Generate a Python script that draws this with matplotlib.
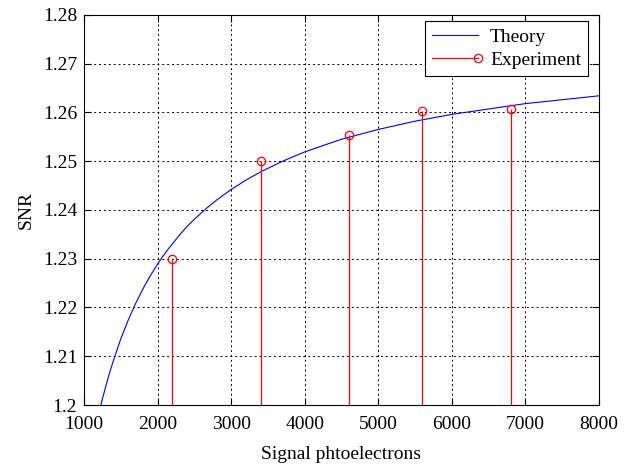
import matplotlib
matplotlib.use("Agg")
import matplotlib.pyplot as plt
from matplotlib.lines import Line2D
from matplotlib.legend_handler import HandlerLine2D

# Theory curve, values
theory_x = [1218, 1250, 1300, 1350, 1412, 1450, 1500, 1550, 1600, 1662, 1700, 1800, 1900,
            2000, 2057, 2150, 2300, 2400, 2500, 2669, 2800, 3000, 3200, 3400, 3700,
            4000, 4500, 5000, 5500, 6000, 6500, 7000, 7500, 8000]
theory_y = [1.1994, 1.2013, 1.2041, 1.2068, 1.2097, 1.2114, 1.2136, 1.2155, 1.2174, 1.2195,
            1.2208, 1.2238, 1.2265, 1.2289, 1.2302, 1.2321, 1.2349, 1.2366, 1.2381, 1.2404,
            1.2420, 1.2442, 1.2461, 1.2478, 1.2500, 1.2519, 1.2545, 1.2565, 1.2582, 1.2596,
            1.2607, 1.2618, 1.2626, 1.2634]

# Experiment points
exp_x = [2200, 3400, 4600, 5600, 6800]
exp_y = [1.2300, 1.2501, 1.2554, 1.2603, 1.2607]

x_ticks = [1000, 2000, 3000, 4000, 5000, 6000, 7000, 8000]
y_ticks = [1.2, 1.21, 1.22, 1.23, 1.24, 1.25, 1.26, 1.27, 1.28]
y_labels = ['1.2', '1.21', '1.22', '1.23', '1.24', '1.25', '1.26', '1.27', '1.28']

plt.rcParams['font.family'] = ['Liberation Serif', 'DejaVu Serif']
plt.rcParams['font.size'] = 14


class EndMarkerHandler(HandlerLine2D):  # marker at right end of the legend line, like matlab stem
    def create_artists(self, *args, **kwargs):
        artists = super().create_artists(*args, **kwargs)
        for a in artists:
            a.set_markevery([2])
        return artists


fig = plt.figure(figsize=(6.37, 4.65), dpi=100)
ax = fig.add_axes([0.132, 0.129, 0.808, 0.839])

ax.plot(theory_x, theory_y, color='blue', lw=0.8)
ax.vlines(exp_x, 1.2, exp_y, color='red', lw=0.9)
ax.plot(exp_x, exp_y, 'o', color='red', mfc='none', ms=6, mew=0.9)

ax.set_xlim(1000, 8000)
ax.set_ylim(1.2, 1.28)
ax.set_xticks(x_ticks)
ax.set_yticks(y_ticks)
ax.set_yticklabels(y_labels)
ax.tick_params(direction='in', top=True, right=True, length=5, width=0.8)
ax.tick_params(axis='x', pad=8)
ax.tick_params(axis='y', pad=5)
ax.grid(True, color='black', linestyle=(0, (2, 3)), lw=0.7)
for s in ax.spines.values():
    s.set_linewidth(0.8)

ax.set_xlabel('Signal phtoelectrons', labelpad=9)
ax.set_ylabel('SNR', labelpad=6)

h_theory = Line2D([], [], color='blue', lw=0.8)
h_exp = Line2D([], [], color='red', lw=0.9, marker='o', mfc='none', ms=6, mew=0.9)
leg = ax.legend([h_theory, h_exp], ['Theory', 'Experiment'], loc='upper right',
                bbox_to_anchor=(0.979, 0.984), borderaxespad=0,
                fancybox=False, edgecolor='black', framealpha=1, numpoints=1,
                handler_map={h_exp: EndMarkerHandler(numpoints=1)},
                handlelength=2.4, handletextpad=0.6, labelspacing=0.3, borderpad=0.35)
leg.get_frame().set_linewidth(0.8)

fig.savefig('out.png', dpi=100)
